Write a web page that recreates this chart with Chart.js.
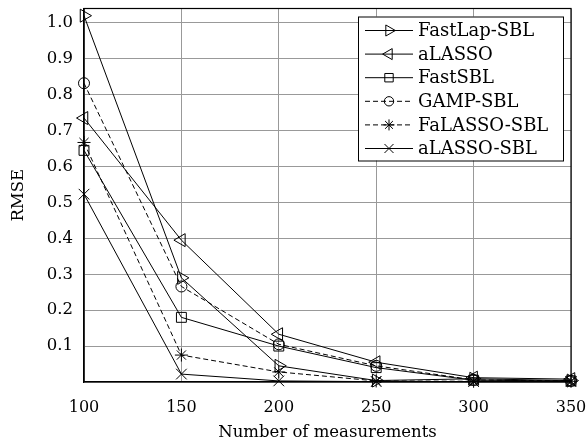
<!DOCTYPE html>
<html>
<head>
<meta charset="utf-8">
<script src="https://cdn.jsdelivr.net/npm/chart.js@4"></script>
<style>
  html, body { margin: 0; padding: 0; background: #fff; }
  #wrap { width: 586px; height: 443px; position: relative; }
</style>
</head>
<body>
<div id="wrap"><canvas id="rmseChart"></canvas></div>
<script>
const measurements = [100, 150, 200, 250, 300, 350];
const fastLapSBL  = [1.02, 0.29, 0.045, 0.004, 0.009, 0.004];
const aLASSO      = [0.735, 0.395, 0.133, 0.055, 0.012, 0.008];
const fastSBL     = [0.645, 0.18, 0.1, 0.04, 0.005, 0.003];
const gampSBL     = [0.832, 0.266, 0.105, 0.045, 0.006, 0.003];
const faLassoSBL  = [0.667, 0.075, 0.028, 0.003, 0.002, 0.002];
const aLassoSBL   = [0.523, 0.022, 0.003, 0.001, 0.001, 0.001];
const yTicks = [0.1, 0.2, 0.3, 0.4, 0.5, 0.6, 0.7, 0.8, 0.9, 1.0];

const FONT = '"DejaVu Serif", serif';

function series(label, values, style, extra) {
    return Object.assign({
        label,
        data: measurements.map((m, i) => ({ x: m, y: values[i] })),
        borderColor: '#000',
        backgroundColor: 'rgba(0,0,0,0)',
        borderWidth: 1,
        pointStyle: style,
        pointRadius: 6,
        pointBorderWidth: 1,
        pointBorderColor: '#000',
        pointBackgroundColor: 'rgba(0,0,0,0)',
        tension: 0,
        clip: false
    }, extra || {});
}

// frame round the plot area (top and right sides included)
const frame = {
    id: 'frame',
    afterDatasetsDraw(chart) {
        const { ctx, chartArea: a } = chart;
        ctx.save();
        ctx.strokeStyle = '#000';
        ctx.lineWidth = 1.2;
        ctx.strokeRect(a.left, a.top, a.right - a.left, a.bottom - a.top);
        ctx.restore();
    }
};

// legend box inside the plot, top right
const boxLegend = {
    id: 'boxLegend',
    afterDraw(chart) {
        const { ctx, chartArea } = chart;
        const w = 205, h = 144, rowH = 23.6;
        const x0 = chartArea.right - 8 - w, y0 = chartArea.top + 8;
        ctx.save();
        ctx.fillStyle = '#fff';
        ctx.fillRect(x0, y0, w, h);
        ctx.strokeStyle = '#000';
        ctx.lineWidth = 1;
        ctx.strokeRect(x0 + 0.5, y0 + 0.5, w, h);
        chart.data.datasets.forEach((ds, i) => {
            const y = y0 + 14 + i * rowH;
            ctx.strokeStyle = '#000';
            ctx.setLineDash(ds.borderDash || []);
            ctx.beginPath();
            ctx.moveTo(x0 + 7, y);
            ctx.lineTo(x0 + 55, y);
            ctx.stroke();
            ctx.setLineDash([]);
            ctx.fillStyle = 'rgba(0,0,0,0)';
            Chart.helpers.drawPoint(ctx, {
                pointStyle: ds.pointStyle,
                radius: ds.pointRadius * 0.85,
                rotation: ds.rotation || 0,
                borderWidth: 1
            }, x0 + 31, y);
            ctx.fillStyle = '#000';
            ctx.font = '18px ' + FONT;
            ctx.textBaseline = 'middle';
            ctx.fillText(ds.label, x0 + 60, y + 1);
        });
        ctx.restore();
    }
};

new Chart(document.getElementById('rmseChart'), {
    type: 'line',
    data: {
        datasets: [
            series('FastLap-SBL', fastLapSBL, 'triangle', { rotation: 90, pointRadius: 7.5 }),
            series('aLASSO', aLASSO, 'triangle', { rotation: 270, pointRadius: 7.5 }),
            series('FastSBL', fastSBL, 'rect', { pointRadius: 7 }),
            series('GAMP-SBL', gampSBL, 'circle', { borderDash: [5, 3], pointRadius: 5.5 }),
            series('FaLASSO-SBL', faLassoSBL, 'star', { borderDash: [5, 3], pointRadius: 6.5 }),
            series('aLASSO-SBL', aLassoSBL, 'crossRot', { pointRadius: 7.5 })
        ]
    },
    options: {
        responsive: true,
        maintainAspectRatio: false,
        animation: false,
        layout: { padding: { top: 7, right: 15, bottom: 0, left: 0 } },
        plugins: { legend: { display: false }, tooltip: { enabled: false } },
        scales: {
            x: {
                type: 'linear',
                min: 100,
                max: 350,
                afterBuildTicks: s => { s.ticks = measurements.map(v => ({ value: v })); },
                afterFit: s => { s.height = 61; s.paddingLeft = 0; s.paddingRight = 0; },
                grid: { color: '#999', lineWidth: 1, drawTicks: false },
                border: { color: '#000', width: 1.2 },
                ticks: { color: '#000', padding: 16, font: { family: FONT, size: 16 } },
                title: {
                    display: true,
                    text: 'Number of measurements',
                    color: '#000',
                    padding: { top: 4, bottom: 0 },
                    font: { family: FONT, size: 16.5 }
                }
            },
            y: {
                min: 0,
                max: 1.04,
                afterBuildTicks: s => { s.ticks = yTicks.map(v => ({ value: v })); },
                afterFit: s => { s.width = 84; s.paddingTop = 0; s.paddingBottom = 0; },
                grid: { color: '#999', lineWidth: 1, drawTicks: false },
                border: { color: '#000', width: 1.2 },
                ticks: {
                    color: '#000',
                    padding: 11,
                    font: { family: FONT, size: 16.5 },
                    callback: v => v.toFixed(1)
                },
                title: {
                    display: true,
                    text: 'RMSE',
                    color: '#000',
                    padding: { top: 9, bottom: 0 },
                    font: { family: FONT, size: 16.5 }
                }
            }
        }
    },
    plugins: [frame, boxLegend]
});
</script>
</body>
</html>
